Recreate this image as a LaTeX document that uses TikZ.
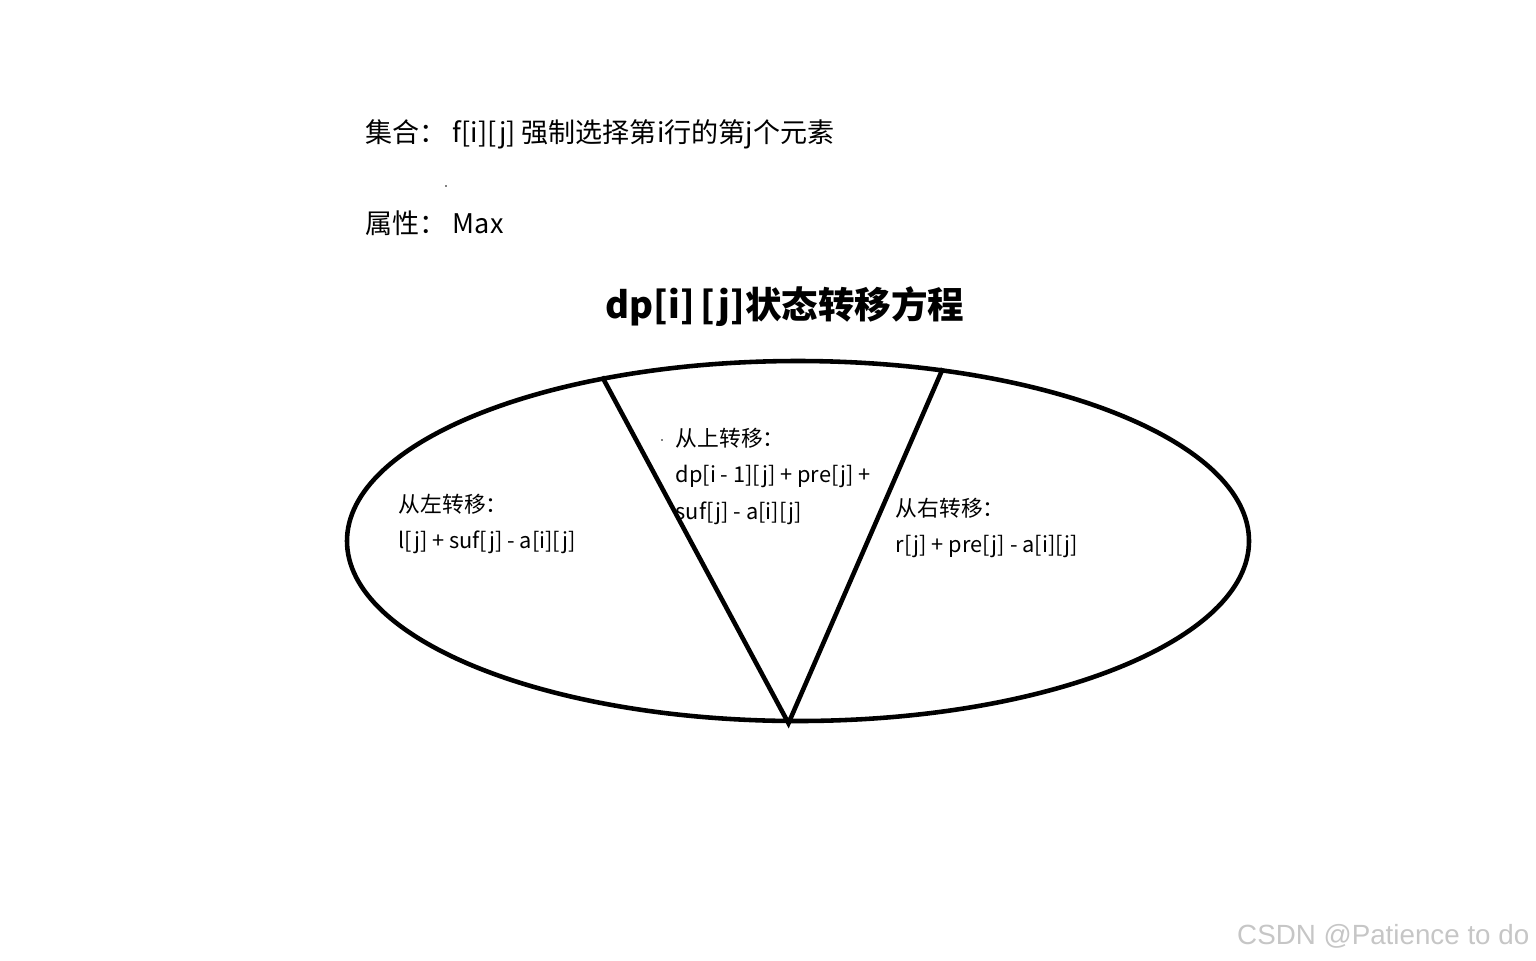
\documentclass[tikz,border=0pt]{standalone}
\usepackage{fontspec}
\setmainfont{Noto Sans CJK SC}
\newfontfamily\wmfont{Liberation Sans}
\usetikzlibrary{shapes.geometric}

\begin{document}
\begin{tikzpicture}[x=1cm, y=1cm,
  txt/.style={inner sep=0pt, anchor=base west, font=\fontsize{7.7}{9}\selectfont},
  note/.style={inner sep=0pt, anchor=north west, align=left, font=\fontsize{6.2}{10.5}\selectfont}]
\useasboundingbox (0,0) rectangle (15.36,9.6);

% Definicao
\node[txt] (set) at (3.65,8.18) {集合：\ f[i][j] 强制选择第i行的第j个元素};
\node[txt] (attr) at (3.65,7.27) {属性：\ Max};
\fill (4.46,7.74) circle (0.008);
\node[inner sep=0pt, anchor=base, font=\fontsize{10.4}{12}\selectfont\bfseries] (title) at (7.85,6.42) {dp[i]\,[j]状态转移方程};

% Particao do conjunto
\node[draw, ellipse, line width=1.3pt, inner sep=0pt, minimum width=9.02cm, minimum height=3.6cm] (all) at (7.98,4.19) {};
\draw[line width=1.3pt] (all.140.4) -- (all.267.4) -- (all.50.7);

% Transicoes
\node[note] (left) at (3.98,4.67) {从左转移：\\ l[j] + suf[j] - a[i][j]};
\fill (6.62,5.20) circle (0.008);
\node[note] (up) at (6.75,5.33) {从上转移：\\ dp[i - 1][j] + pre[j] +\\ suf[j] - a[i][j]};
\node[note] (right) at (8.95,4.63) {从右转移：\\ r[j] + pre[j] - a[i][j]};

% Marca
\node[anchor=base east, inner sep=0pt, text=gray!45, font=\wmfont\fontsize{7.9}{9}\selectfont] (mark) at (15.30,0.16) {CSDN @Patience to do};
\end{tikzpicture}
\end{document}
